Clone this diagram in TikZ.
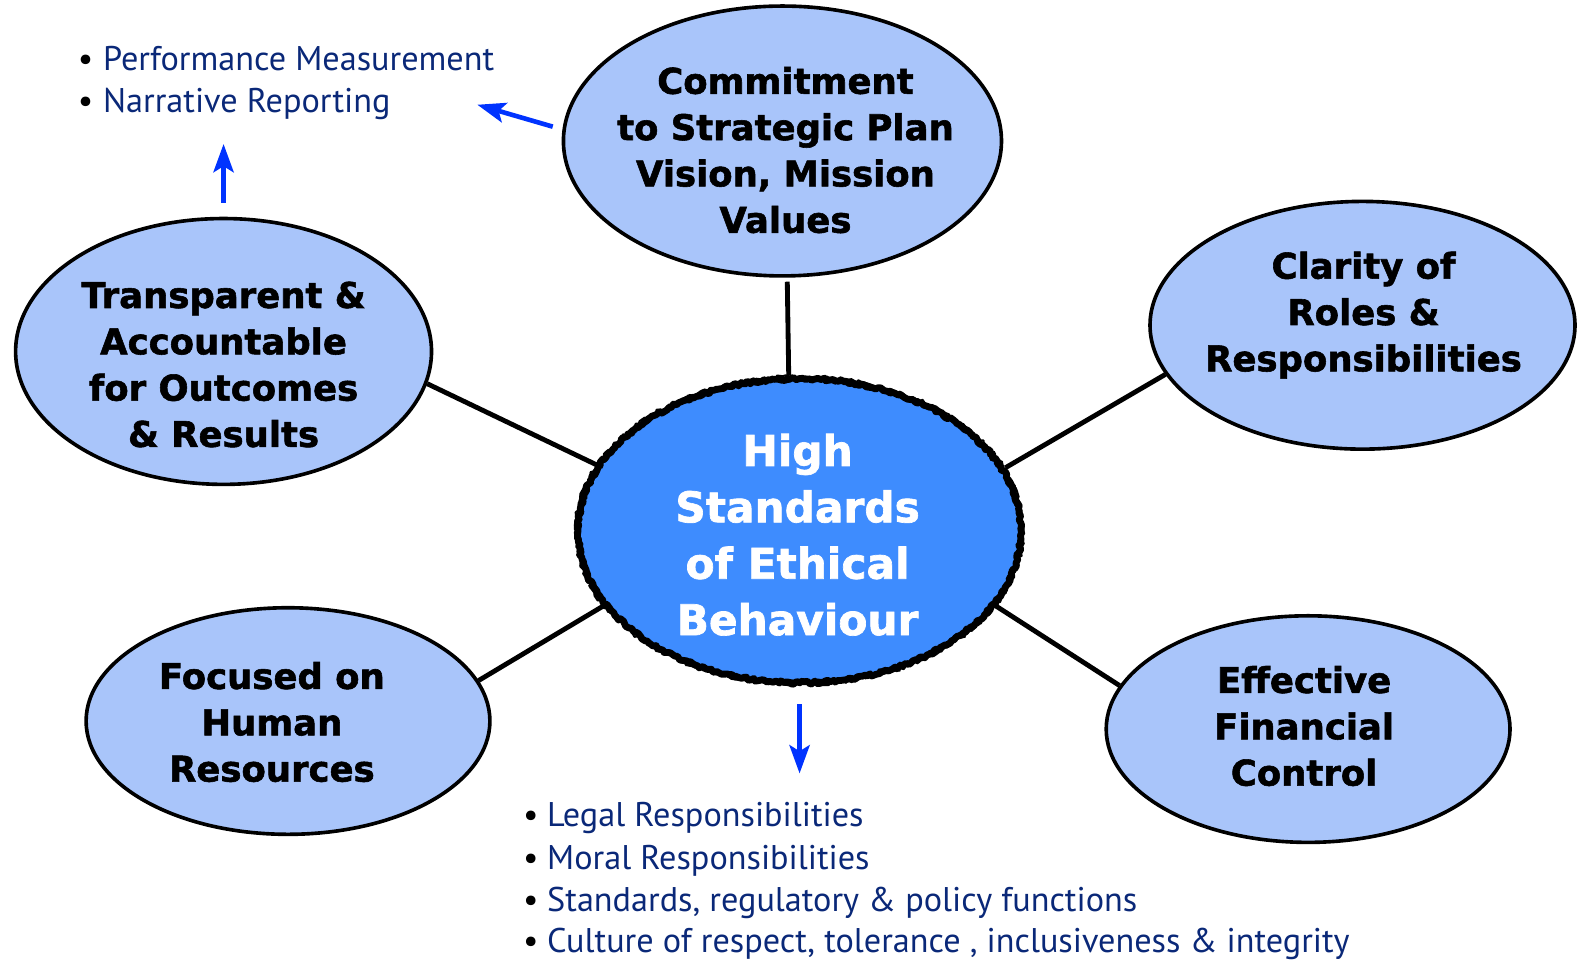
\documentclass[tikz,border=0pt]{standalone}
\usepackage{fontspec}
\setmainfont{PT Sans}
\newfontfamily\heavyfont{DejaVu Sans Bold}[FakeBold=1.6]
\usetikzlibrary{shapes.geometric,arrows.meta,decorations.pathmorphing}
\definecolor{lightell}{RGB}{169,197,250}
\definecolor{coreblue}{RGB}{62,140,254}
\definecolor{arrowblue}{RGB}{0,51,255}
\definecolor{navy}{RGB}{10,40,120}
\begin{document}
\pgfmathsetseed{7}
\begin{tikzpicture}[x=0.5pt,y=-0.5pt,
 ell/.style={ellipse, draw=black, line width=1.8pt, fill=lightell, inner sep=0pt},
 coreell/.style={ellipse, fill=coreblue, draw=black, line width=3.4pt, inner sep=0pt, line join=round,
   decorate, decoration={random steps, segment length=1.2pt, amplitude=0.7pt}},
 roughline/.style={draw=black, line width=1pt, line join=round, line cap=round,
   decorate, decoration={random steps, segment length=1.5pt, amplitude=1pt}},
 elltext/.style={font=\heavyfont\fontsize{17.6}{23}\selectfont, align=center, inner sep=0pt},
 coretext/.style={font=\heavyfont\fontsize{21}{28}\selectfont, align=center, inner sep=0pt, text=white},
 link/.style={draw=black, line width=2.4pt},
 blarrow/.style={draw=arrowblue, line width=2.3pt, -{Stealth[length=14pt,width=10pt,inset=3pt]}},
 item/.style={font=\fontsize{17}{20}\selectfont, text=navy, anchor=base west, inner sep=0pt}
]
\useasboundingbox (0,0) rectangle (1568,954);

% ellipses
\node[ell, minimum width=217.5pt, minimum height=134pt] (top) at (777,140) {};
\node[ell, minimum width=206.5pt, minimum height=132pt] (tl) at (222,349) {};
\node[ell, minimum width=211pt, minimum height=123pt] (tr) at (1353,323) {};
\node[ell, minimum width=200.5pt, minimum height=112.5pt] (bl) at (286,716) {};
\node[ell, minimum width=200.5pt, minimum height=112.5pt] (br) at (1299,724) {};
\node[coreell, minimum width=220pt, minimum height=151pt] (c) at (794,527) {};
\draw[roughline] (c.center) ellipse [x radius=111pt, y radius=76.5pt];

% connectors
\draw[link, shorten <=2pt] (top.-88) -- (c.94);
\draw[link] (tl.-9) -- (c.162);
\draw[link] (tr.194) -- (c.17);
\draw[link] (bl.12) -- (c.201);
\draw[link] (br.167) -- (c.-21);

% blue arrows
\coordinate (a1) at (474,104);
\coordinate (a2) at (222,143);
\coordinate (a3) at (794,768);
\draw[blarrow, shorten <=5pt] (top.177) -- (a1);
\draw[blarrow, shorten <=7pt] (tl.north) -- (a2);
\draw[blarrow, shorten <=9pt] (c.south) -- (a3);

% ellipse texts
\node[elltext] (toptext) at (780,149) {Commitment\\to Strategic Plan\\Vision, Mission\\Values};
\node[elltext] (tltext) at (222,362) {Transparent \&\\Accountable\\for Outcomes\\\& Results};
\node[elltext] (trtext) at (1354,313) {Clarity of\\Roles \&\\Responsibilities};
\node[elltext] (bltext) at (270,717) {Focused on\\Human\\Resources};
\node[elltext] (brtext) at (1295,721) {Effective\\Financial\\Control};
\node[coretext] (ctext) at (792,531) {High\\Standards\\of Ethical\\Behaviour};

% bullet lists
\node[item] (p1) at (77,70) {\makebox[12.5pt][l]{\color{black}\textbullet}Performance Measurement};
\node[item] (p2) at (77,112) {\makebox[12.5pt][l]{\color{black}\textbullet}Narrative Reporting};
\node[item] (q1) at (519,821) {\makebox[12pt][l]{\color{black}\textbullet}Legal Responsibilities};
\node[item] (q2) at (519,863) {\makebox[12pt][l]{\color{black}\textbullet}Moral Responsibilities};
\node[item] (q3) at (519,905) {\makebox[12pt][l]{\color{black}\textbullet}Standards, regulatory \& policy functions};
\node[item] (q4) at (519,946) {\makebox[12pt][l]{\color{black}\textbullet}Culture of respect, tolerance , inclusiveness \& integrity};
\end{tikzpicture}
\end{document}
